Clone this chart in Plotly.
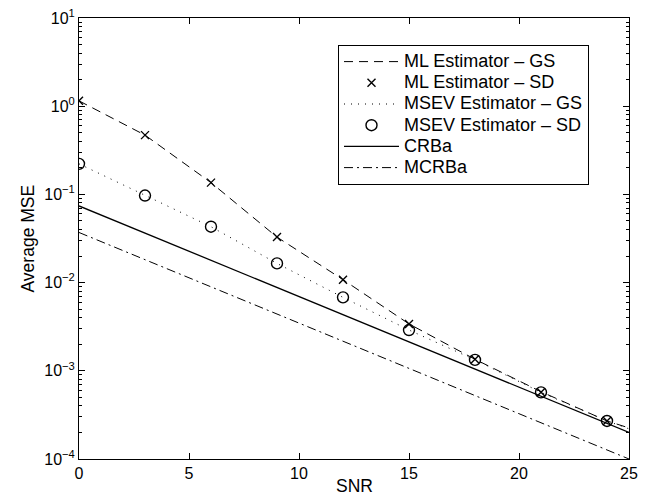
import plotly.graph_objects as go

# SNR positions
x_markers = [0, 3, 6, 9, 12, 15, 18, 21, 24]
x_line = [0, 3, 6, 9, 12, 15, 18, 21, 24, 25]

# series values
ml_gs = [1.15, 0.47, 0.136, 0.0328, 0.0108, 0.0034, 0.00135, 0.00058, 0.00027, 0.000225]
ml_sd = [1.15, 0.47, 0.136, 0.0328, 0.0108, 0.0034, 0.00135, 0.00057, 0.00027]
msev_gs = [0.222, 0.097, 0.043, 0.0165, 0.0068, 0.0029, 0.00133, 0.00057, 0.00027, 0.00022]
msev_sd = [0.222, 0.097, 0.043, 0.0165, 0.0068, 0.0029, 0.00133, 0.00057, 0.00027]
crba = [0.074, 0.0364, 0.0179, 0.0088, 0.00433, 0.00213, 0.00105, 0.000513, 0.000253, 0.0002]
mcrba = [0.037, 0.0182, 0.009, 0.0044, 0.00217, 0.00107, 0.000525, 0.000257, 0.000127, 0.0001]

series_names = ["ML Estimator \u2013 GS", "ML Estimator \u2013 SD", "MSEV Estimator \u2013 GS",
                "MSEV Estimator \u2013 SD", "CRBa", "MCRBa"]

# tick labels
x_ticks = [0, 5, 10, 15, 20, 25]
y_tickvals = [1e-4, 1e-3, 1e-2, 1e-1, 1e0, 1e1]
y_ticktext = ["10<sup>\u22124</sup>", "10<sup>\u22123</sup>", "10<sup>\u22122</sup>",
              "10<sup>\u22121</sup>", "10<sup>0</sup>", "10<sup>1</sup>"]
x_title = "SNR"
y_title = "Average MSE"

FONT = "Liberation Sans, Arial, Helvetica, sans-serif"
K = "black"

# the page body adds an 8px offset, so the figure is 8px smaller than the window
OFF = 8
W, H = 661 - OFF, 495 - OFF
L, R, T, B = 79 - OFF, 661 - 629, 18 - OFF, 495 - 459   # plot area (window px)
PW, PH = W - L - R, H - T - B


def lname(s):
    return '<span style="font-size:18px">' + s + '</span>'


fig = go.Figure()
fig.add_trace(go.Scatter(x=x_line, y=ml_gs, mode="lines", name=lname(series_names[0]),
                         line=dict(color=K, width=1, dash="9px,6px")))
fig.add_trace(go.Scatter(x=x_markers, y=ml_sd, mode="markers", name=lname(series_names[1]),
                         marker=dict(symbol="x-thin", size=8, color=K, line=dict(color=K, width=1.4))))
fig.add_trace(go.Scatter(x=x_line, y=msev_gs, mode="lines", name=lname(series_names[2]),
                         line=dict(color=K, width=1, dash="1px,6px")))
fig.add_trace(go.Scatter(x=x_markers, y=msev_sd, mode="markers", name=lname(series_names[3]),
                         marker=dict(symbol="circle-open", size=11, color=K, line=dict(color=K, width=1.4))))
fig.add_trace(go.Scatter(x=x_line, y=crba, mode="lines", name=lname(series_names[4]),
                         line=dict(color=K, width=1.3)))
fig.add_trace(go.Scatter(x=x_line, y=mcrba, mode="lines", name=lname(series_names[5]),
                         line=dict(color=K, width=1, dash="9px,4px,2px,4px")))

fig.update_layout(
    width=W, height=H,
    margin=dict(l=L, r=R, t=T, b=B, autoexpand=False),
    paper_bgcolor="white", plot_bgcolor="white",
    font=dict(family=FONT, size=16, color=K),
    showlegend=True,
    legend=dict(x=(338 - 79) / PW, y=(459 - 45) / PH, xanchor="left", yanchor="top",
                bgcolor="white", bordercolor=K, borderwidth=1, tracegroupgap=0,
                itemwidth=55,
                font=dict(family=FONT, size=14, color=K)),
    annotations=[
        dict(text=x_title, xref="paper", yref="paper", x=0.5, y=-(486 - 459) / PH,
             xanchor="center", yanchor="middle", showarrow=False,
             font=dict(family=FONT, size=17.5, color=K)),
        dict(text=y_title, xref="paper", yref="paper", x=-(79 - 27) / PW, y=0.5,
             xanchor="center", yanchor="middle", textangle=-90, showarrow=False,
             font=dict(family=FONT, size=17.5, color=K)),
    ],
)
fig.update_xaxes(
    range=[0, 25], tickvals=x_ticks, ticks="inside", ticklen=6, tickcolor=K,
    showline=True, linecolor=K, linewidth=1, mirror="ticks",
    showgrid=False, zeroline=False, automargin=False, ticklabeloverflow="allow",
    tickfont=dict(size=16),
)
fig.update_yaxes(
    type="log", range=[-4, 1], tickmode="array", tickvals=y_tickvals, ticktext=y_ticktext,
    ticks="inside", ticklen=6, tickcolor=K,
    minor=dict(ticks="inside", ticklen=3, tickcolor=K, dtick="D1", showgrid=False),
    showline=True, linecolor=K, linewidth=1, mirror="ticks",
    showgrid=False, zeroline=False, automargin=False, ticklabeloverflow="allow",
    tickfont=dict(size=16),
)

fig.write_html("out.html")
